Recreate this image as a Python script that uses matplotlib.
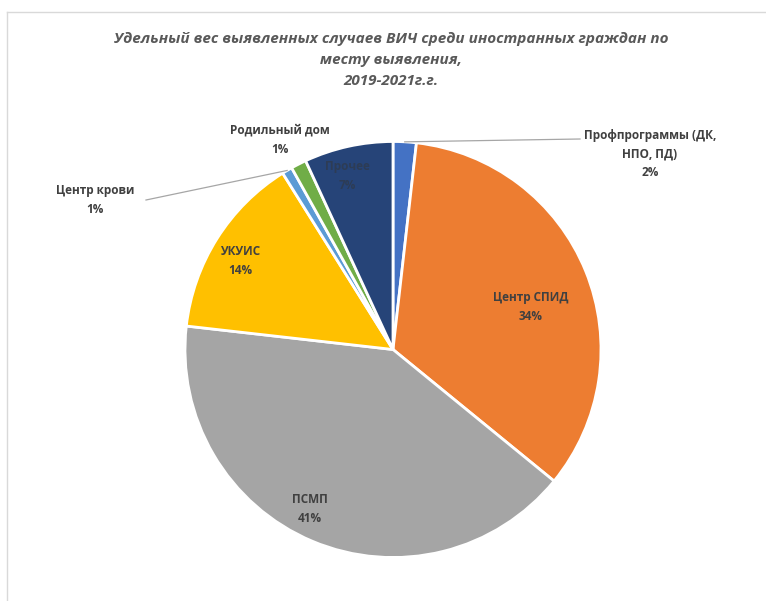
import numpy as np
import matplotlib.pyplot as plt
from matplotlib.lines import Line2D

# Данные (доли, %), порядок по часовой стрелке от верхней точки
categories = ['Профпрограммы (ДК,\nНПО, ПД)', 'Центр СПИД', 'ПСМП', 'УКУИС',
              'Центр крови', 'Родильный дом', 'Прочее']
values = [1.8, 34.1, 40.9, 14.3, 0.8, 1.2, 6.9]
colors = ['#4472C4', '#ED7D31', '#A5A5A5', '#FFC000', '#5B9BD5', '#70AD47', '#264478']

title = ('Удельный вес выявленных случаев ВИЧ среди иностранных граждан по\n'
         'месту выявления,\n2019-2021г.г.')

W, H = 766, 601
plt.rcParams['font.family'] = ['Open Sans', 'DejaVu Sans']

fig = plt.figure(figsize=(W / 100, H / 100), dpi=100)
ax = fig.add_axes([0, 0, 1, 1])

cx, cy, R = 393, H - 349.5, 208
wedges, _ = ax.pie(values, colors=colors, startangle=90, counterclock=False,
                   center=(cx, cy), radius=R,
                   wedgeprops=dict(edgecolor='white', linewidth=2))
ax.set_xlim(0, W)
ax.set_ylim(0, H)
ax.set_aspect('equal')
ax.axis('off')

total = sum(values)
txt = '#404040'
fs = 8.5

def mid_angle(w):
    return np.deg2rad((w.theta1 + w.theta2) / 2)

# положение подписей (пиксели от левого верхнего угла)
label_pos = {0: (650, 154), 1: (531, 307), 2: (310, 509), 3: (240, 261),
             4: (95, 200), 5: (280, 140), 6: (347, 176)}
# концы выносок
leader_end = {0: (580, 139), 4: (146, 200)}

for i, (px, py) in label_pos.items():
    col = '#2d3c55' if i == 6 else txt
    ax.text(px, H - py, f'{categories[i]}\n{values[i] / total * 100:.0f}%',
            ha='center', va='center', fontsize=fs, fontweight='bold',
            color=col, linespacing=1.6)
    if i in leader_end:
        a = mid_angle(wedges[i])
        x0, y0 = cx + R * np.cos(a), cy + R * np.sin(a)
        ex, ey = leader_end[i]
        ax.plot([x0, ex], [y0, H - ey], color='#a6a6a6', linewidth=0.9)

ax.text(391, H - 60, title, ha='center', va='center', fontsize=11,
        fontweight='bold', style='italic', color='#595959', linespacing=1.65)

# рамка области диаграммы
fig.add_artist(Line2D([7 / W, 1], [1 - 12 / H, 1 - 12 / H], color='#d9d9d9', linewidth=1))
fig.add_artist(Line2D([7 / W, 7 / W], [0, 1 - 12 / H], color='#d9d9d9', linewidth=1))

fig.savefig('out.png', dpi=100)
